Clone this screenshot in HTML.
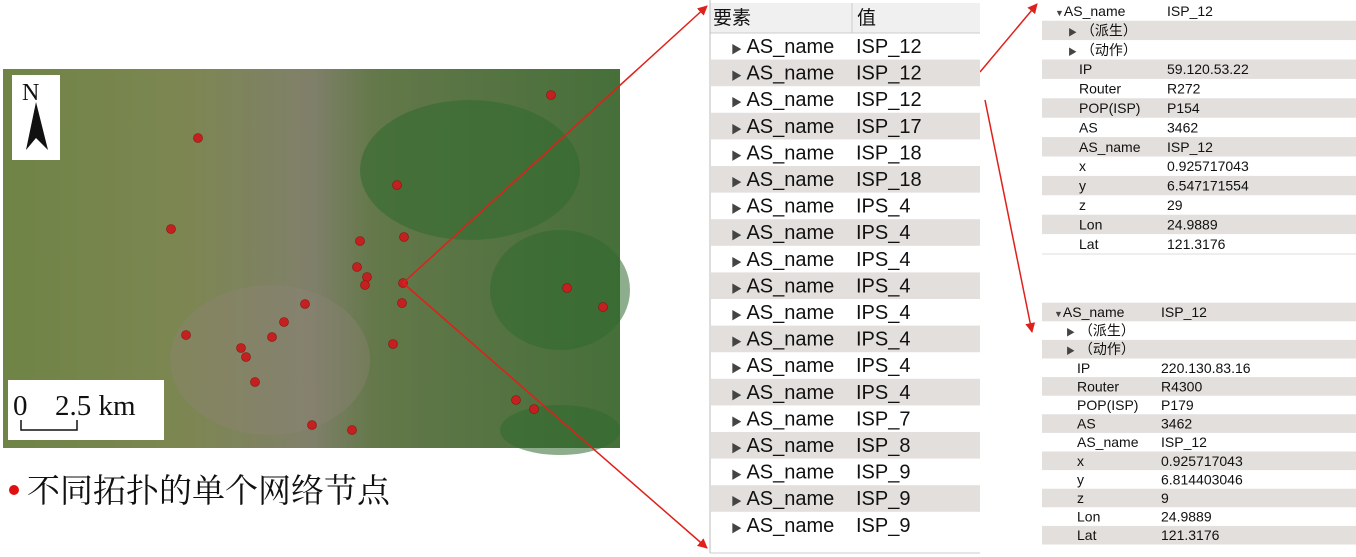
<!DOCTYPE html>
<html><head><meta charset="utf-8"><style>
html,body{margin:0;padding:0;background:#fff;}
svg{display:block}
.t{font-family:"Liberation Sans","Noto Sans CJK SC",sans-serif;fill:#111}
.tri{fill:#444}
</style></head><body>
<svg width="1356" height="557" viewBox="0 0 1356 557" xmlns="http://www.w3.org/2000/svg">
<defs>
<linearGradient id="mg" x1="0" y1="0" x2="1" y2="0">
<stop offset="0" stop-color="#6f8446"/><stop offset="0.3" stop-color="#7d8652"/><stop offset="0.5" stop-color="#80806a"/><stop offset="0.6" stop-color="#64784a"/><stop offset="1" stop-color="#466f3a"/>
</linearGradient>
<marker id="ah" markerWidth="10" markerHeight="10" refX="9" refY="5" orient="auto" markerUnits="userSpaceOnUse"><path d="M0,0 L10,5 L0,10 Z" fill="#e0201a"/></marker>
</defs>
<rect x="3" y="69" width="617" height="379" fill="url(#mg)"/>
<ellipse cx="470" cy="170" rx="110" ry="70" fill="#2f6a2e" opacity="0.55"/>
<ellipse cx="560" cy="290" rx="70" ry="60" fill="#2f6a2e" opacity="0.55"/>
<ellipse cx="270" cy="360" rx="100" ry="75" fill="#8f8478" opacity="0.35"/>
<ellipse cx="560" cy="430" rx="60" ry="25" fill="#2f6a2e" opacity="0.55"/>
<rect x="12" y="75" width="48" height="85" fill="#fff"/>
<text x="22" y="100" font-family="Liberation Serif,serif" font-size="24" fill="#111">N</text>
<path d="M36,102 L48,150 L36,138 L26,150 Z" fill="#111"/>
<rect x="8" y="380" width="156" height="60" fill="#fff"/>
<text x="13" y="415" font-family="Liberation Serif,serif" font-size="29" fill="#111">0</text>
<text x="55" y="415" font-family="Liberation Serif,serif" font-size="29" fill="#111">2.5 km</text>
<path d="M21,420 V430 H77 V420" stroke="#111" stroke-width="1.5" fill="none"/>
<g fill="#c4201f" stroke="#8a1010" stroke-width="0.6">
<circle cx="198" cy="138" r="4.5"/><circle cx="551" cy="95" r="4.5"/><circle cx="397" cy="185" r="4.5"/><circle cx="171" cy="229" r="4.5"/><circle cx="404" cy="237" r="4.5"/><circle cx="360" cy="241" r="4.5"/><circle cx="357" cy="267" r="4.5"/><circle cx="367" cy="277" r="4.5"/><circle cx="365" cy="285" r="4.5"/><circle cx="403" cy="283" r="4.5"/><circle cx="402" cy="303" r="4.5"/><circle cx="305" cy="304" r="4.5"/><circle cx="284" cy="322" r="4.5"/><circle cx="272" cy="337" r="4.5"/><circle cx="186" cy="335" r="4.5"/><circle cx="241" cy="348" r="4.5"/><circle cx="246" cy="357" r="4.5"/><circle cx="255" cy="382" r="4.5"/><circle cx="393" cy="344" r="4.5"/><circle cx="312" cy="425" r="4.5"/><circle cx="352" cy="430" r="4.5"/><circle cx="516" cy="400" r="4.5"/><circle cx="534" cy="409" r="4.5"/><circle cx="567" cy="288" r="4.5"/><circle cx="603" cy="307" r="4.5"/>
</g>
<circle cx="14" cy="490" r="5" fill="#e01010"/>
<text x="27" y="502" font-family="Noto Serif CJK SC,serif" font-size="33" fill="#111">不同拓扑的单个网络节点</text>
<g stroke="#e0201a" stroke-width="1.5" fill="none">
<line x1="403" y1="283" x2="707" y2="6" marker-end="url(#ah)"/>
<line x1="403" y1="283" x2="707" y2="548" marker-end="url(#ah)"/>
<line x1="980" y1="72" x2="1037" y2="4" marker-end="url(#ah)"/>
<line x1="985" y1="100" x2="1032" y2="332" marker-end="url(#ah)"/>
</g>
<rect x="710" y="3" width="270" height="30" fill="#f0f0f0"/>
<line x1="710" y1="33" x2="980" y2="33" stroke="#ccc"/>
<line x1="852" y1="3" x2="852" y2="33" stroke="#ccc"/>
<line x1="710" y1="0" x2="710" y2="553" stroke="#bbb"/>
<line x1="710" y1="553" x2="980" y2="553" stroke="#ccc"/>
<text class="t" x="713" y="24" font-size="19">要素</text>
<text class="t" x="857" y="24" font-size="19">值</text>
<g fill="#e2dfdc">
<rect x="711" y="59.6" width="269" height="26.6"/><rect x="711" y="112.8" width="269" height="26.6"/><rect x="711" y="166" width="269" height="26.6"/><rect x="711" y="219.2" width="269" height="26.6"/><rect x="711" y="272.4" width="269" height="26.6"/><rect x="711" y="325.6" width="269" height="26.6"/><rect x="711" y="378.8" width="269" height="26.6"/><rect x="711" y="432" width="269" height="26.6"/><rect x="711" y="485.2" width="269" height="26.6"/>
</g>
<g class="t" font-size="20">
<text x="731" y="53"><tspan font-size="11" class="tri">▶</tspan> AS_name</text><text x="856" y="53">ISP_12</text>
<text x="731" y="79.6"><tspan font-size="11" class="tri">▶</tspan> AS_name</text><text x="856" y="79.6">ISP_12</text>
<text x="731" y="106.2"><tspan font-size="11" class="tri">▶</tspan> AS_name</text><text x="856" y="106.2">ISP_12</text>
<text x="731" y="132.8"><tspan font-size="11" class="tri">▶</tspan> AS_name</text><text x="856" y="132.8">ISP_17</text>
<text x="731" y="159.4"><tspan font-size="11" class="tri">▶</tspan> AS_name</text><text x="856" y="159.4">ISP_18</text>
<text x="731" y="186"><tspan font-size="11" class="tri">▶</tspan> AS_name</text><text x="856" y="186">ISP_18</text>
<text x="731" y="212.6"><tspan font-size="11" class="tri">▶</tspan> AS_name</text><text x="856" y="212.6">IPS_4</text>
<text x="731" y="239.2"><tspan font-size="11" class="tri">▶</tspan> AS_name</text><text x="856" y="239.2">IPS_4</text>
<text x="731" y="265.8"><tspan font-size="11" class="tri">▶</tspan> AS_name</text><text x="856" y="265.8">IPS_4</text>
<text x="731" y="292.4"><tspan font-size="11" class="tri">▶</tspan> AS_name</text><text x="856" y="292.4">IPS_4</text>
<text x="731" y="319"><tspan font-size="11" class="tri">▶</tspan> AS_name</text><text x="856" y="319">IPS_4</text>
<text x="731" y="345.6"><tspan font-size="11" class="tri">▶</tspan> AS_name</text><text x="856" y="345.6">IPS_4</text>
<text x="731" y="372.2"><tspan font-size="11" class="tri">▶</tspan> AS_name</text><text x="856" y="372.2">IPS_4</text>
<text x="731" y="398.8"><tspan font-size="11" class="tri">▶</tspan> AS_name</text><text x="856" y="398.8">IPS_4</text>
<text x="731" y="425.4"><tspan font-size="11" class="tri">▶</tspan> AS_name</text><text x="856" y="425.4">ISP_7</text>
<text x="731" y="452"><tspan font-size="11" class="tri">▶</tspan> AS_name</text><text x="856" y="452">ISP_8</text>
<text x="731" y="478.6"><tspan font-size="11" class="tri">▶</tspan> AS_name</text><text x="856" y="478.6">ISP_9</text>
<text x="731" y="505.2"><tspan font-size="11" class="tri">▶</tspan> AS_name</text><text x="856" y="505.2">ISP_9</text>
<text x="731" y="531.8"><tspan font-size="11" class="tri">▶</tspan> AS_name</text><text x="856" y="531.8">ISP_9</text>
</g>
<g fill="#e2dfdc">
<rect x="1042" y="20.7" width="314" height="19.4"/><rect x="1042" y="59.5" width="314" height="19.4"/><rect x="1042" y="98.3" width="314" height="19.4"/><rect x="1042" y="137.1" width="314" height="19.4"/><rect x="1042" y="175.9" width="314" height="19.4"/><rect x="1042" y="214.7" width="314" height="19.4"/>
</g>
<line x1="1042" y1="254" x2="1356" y2="254" stroke="#ddd"/>
<g class="t" font-size="14">
<text x="1055" y="16"><tspan font-size="9" class="tri">▼</tspan>AS_name</text><text x="1167" y="16">ISP_12</text>
<text x="1068" y="35.4"><tspan font-size="9" class="tri">▶</tspan> （派生）</text>
<text x="1068" y="54.8"><tspan font-size="9" class="tri">▶</tspan> （动作）</text>
<text x="1079" y="74.2">IP</text><text x="1167" y="74.2">59.120.53.22</text>
<text x="1079" y="93.6">Router</text><text x="1167" y="93.6">R272</text>
<text x="1079" y="113">POP(ISP)</text><text x="1167" y="113">P154</text>
<text x="1079" y="132.4">AS</text><text x="1167" y="132.4">3462</text>
<text x="1079" y="151.8">AS_name</text><text x="1167" y="151.8">ISP_12</text>
<text x="1079" y="171.2">x</text><text x="1167" y="171.2">0.925717043</text>
<text x="1079" y="190.6">y</text><text x="1167" y="190.6">6.547171554</text>
<text x="1079" y="210">z</text><text x="1167" y="210">29</text>
<text x="1079" y="229.4">Lon</text><text x="1167" y="229.4">24.9889</text>
<text x="1079" y="248.8">Lat</text><text x="1167" y="248.8">121.3176</text>
</g>
<g fill="#e2dfdc">
<rect x="1042" y="302.7" width="314" height="18.6"/><rect x="1042" y="339.9" width="314" height="18.6"/><rect x="1042" y="377.1" width="314" height="18.6"/><rect x="1042" y="414.3" width="314" height="18.6"/><rect x="1042" y="451.5" width="314" height="18.6"/><rect x="1042" y="488.7" width="314" height="18.6"/><rect x="1042" y="525.9" width="314" height="18.6"/>
</g>
<g class="t" font-size="14">
<text x="1054" y="317"><tspan font-size="9" class="tri">▼</tspan>AS_name</text><text x="1161" y="317">ISP_12</text>
<text x="1066" y="335.6"><tspan font-size="9" class="tri">▶</tspan> （派生）</text>
<text x="1066" y="354.2"><tspan font-size="9" class="tri">▶</tspan> （动作）</text>
<text x="1077" y="372.8">IP</text><text x="1161" y="372.8">220.130.83.16</text>
<text x="1077" y="391.4">Router</text><text x="1161" y="391.4">R4300</text>
<text x="1077" y="410">POP(ISP)</text><text x="1161" y="410">P179</text>
<text x="1077" y="428.6">AS</text><text x="1161" y="428.6">3462</text>
<text x="1077" y="447.2">AS_name</text><text x="1161" y="447.2">ISP_12</text>
<text x="1077" y="465.8">x</text><text x="1161" y="465.8">0.925717043</text>
<text x="1077" y="484.4">y</text><text x="1161" y="484.4">6.814403046</text>
<text x="1077" y="503">z</text><text x="1161" y="503">9</text>
<text x="1077" y="521.6">Lon</text><text x="1161" y="521.6">24.9889</text>
<text x="1077" y="540.2">Lat</text><text x="1161" y="540.2">121.3176</text>
</g>
</svg>
</body></html>
